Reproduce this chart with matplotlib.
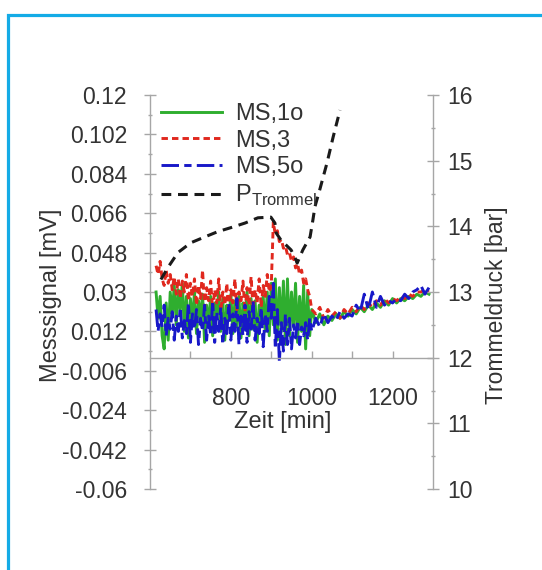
import matplotlib
matplotlib.use("Agg")
import matplotlib.pyplot as plt
from matplotlib.ticker import FixedLocator, AutoMinorLocator, FuncFormatter
from matplotlib.patches import Rectangle

plt.rcParams['font.family'] = ['Liberation Sans', 'DejaVu Sans']
plt.rcParams['mathtext.fontset'] = 'custom'
plt.rcParams['mathtext.rm'] = 'Liberation Sans'

# ---------------- data ----------------
t_ms = [615, 620, 625, 630, 635, 640, 645, 650, 655, 660, 665, 670, 675, 680, 685,
        690, 695, 700, 705, 710, 715, 720, 725, 730, 735, 740, 745, 750, 755, 760,
        765, 770, 775, 780, 785, 790, 795, 800, 805, 810, 815, 820, 825, 830, 835,
        840, 845, 850, 855, 860, 865, 870, 875, 880, 885, 890, 895, 900, 905, 910,
        915, 920, 925, 930, 935, 940, 945, 950, 955, 960, 965, 970, 975, 980, 985,
        990, 995, 1000, 1010, 1020, 1030, 1040, 1050, 1060, 1070, 1080, 1090, 1100,
        1110, 1120, 1130, 1140, 1150, 1160, 1170, 1180, 1190, 1200, 1210, 1220, 1230,
        1240, 1250, 1260, 1270, 1280, 1290]

ms_1o = [0.030, 0.018, 0.028, 0.010, 0.004, 0.025, 0.008, 0.030, 0.020, 0.033, 0.015, 0.031, 0.022, 0.034, 0.012,
         0.028, 0.009, 0.027, 0.016, 0.030, 0.011, 0.026, 0.018, 0.029, 0.007, 0.024, 0.015, 0.028, 0.010, 0.025,
         0.019, 0.030, 0.012, 0.027, 0.008, 0.024, 0.017, 0.029, 0.011, 0.026, 0.014, 0.028, 0.009, 0.025, 0.018,
         0.030, 0.010, 0.027, 0.013, 0.026, 0.007, 0.024, 0.016, 0.028, 0.012, 0.030, 0.010, 0.034, 0.015, 0.036,
         0.008, 0.032, 0.012, 0.035, 0.006, 0.036, 0.010, 0.030, 0.014, 0.034, 0.007, 0.028, 0.012, 0.033, 0.004,
         0.030, 0.010, 0.022, 0.016, 0.020, 0.015, 0.019, 0.017, 0.020, 0.018, 0.021, 0.019, 0.022,
         0.020, 0.023, 0.021, 0.024, 0.022, 0.025, 0.023, 0.026, 0.024, 0.027, 0.025, 0.027, 0.026,
         0.028, 0.027, 0.029, 0.028, 0.030, 0.029]

ms_3 = [0.042, 0.038, 0.044, 0.036, 0.033, 0.040, 0.034, 0.038, 0.031, 0.037, 0.029, 0.036, 0.027, 0.035, 0.030,
        0.038, 0.026, 0.034, 0.028, 0.036, 0.024, 0.033, 0.027, 0.040, 0.023, 0.032, 0.026, 0.035, 0.022, 0.031,
        0.025, 0.036, 0.021, 0.030, 0.024, 0.034, 0.020, 0.031, 0.025, 0.036, 0.022, 0.030, 0.026, 0.035, 0.021,
        0.032, 0.024, 0.037, 0.022, 0.031, 0.025, 0.036, 0.023, 0.033, 0.028, 0.038, 0.030, 0.033, 0.062, 0.056,
        0.058, 0.053, 0.054, 0.050, 0.051, 0.047, 0.048, 0.044, 0.046, 0.041, 0.043, 0.038, 0.040, 0.034, 0.036,
        0.031, 0.028, 0.022, 0.020, 0.023, 0.018, 0.022, 0.019, 0.021, 0.018, 0.022, 0.020, 0.023,
        0.021, 0.024, 0.022, 0.025, 0.023, 0.026, 0.024, 0.027, 0.025, 0.027, 0.026, 0.028, 0.027,
        0.029, 0.028, 0.030, 0.030, 0.031, 0.030]

ms_5o = [0.022, 0.012, 0.020, 0.014, 0.024, 0.010, 0.018, 0.013, 0.021, 0.008, 0.019, 0.012, 0.023, 0.009, 0.017,
         0.011, 0.025, 0.007, 0.020, 0.013, 0.022, 0.006, 0.018, 0.012, 0.024, 0.008, 0.019, 0.010, 0.026, 0.007,
         0.021, 0.012, 0.023, 0.006, 0.018, 0.011, 0.025, 0.008, 0.020, 0.012, 0.027, 0.006, 0.019, 0.010, 0.024,
         0.007, 0.021, 0.013, 0.026, 0.008, 0.018, 0.011, 0.023, 0.005, 0.020, 0.012, 0.028, 0.018, 0.034, 0.004,
         0.022, -0.002, 0.016, 0.003, 0.020, 0.006, 0.018, 0.004, 0.015, 0.009, 0.017, 0.006, 0.014, 0.010, 0.016,
         0.008, 0.018, 0.012, 0.018, 0.014, 0.020, 0.016, 0.019, 0.017, 0.021, 0.018, 0.020, 0.019,
         0.024, 0.021, 0.029, 0.022, 0.030, 0.023, 0.028, 0.024, 0.026, 0.025, 0.027, 0.026, 0.029,
         0.027, 0.030, 0.031, 0.033, 0.029, 0.032]

t_p = [627, 645, 669, 701, 736, 768, 800, 835, 867, 899, 909, 912, 924, 949, 961,
       964, 978, 996, 1003, 1008, 1020, 1038, 1053, 1070]
p_trommel = [13.19, 13.38, 13.60, 13.75, 13.84, 13.92, 13.98, 14.05, 14.13, 14.14, 14.05, 13.90, 13.79, 13.64, 13.49,
             13.44, 13.64, 13.84, 14.10, 14.30, 14.56, 14.97, 15.36, 15.77]

left_ticks = [0.12, 0.102, 0.084, 0.066, 0.048, 0.03, 0.012, -0.006, -0.024, -0.042, -0.06]
right_ticks = [10, 11, 12, 13, 14, 15, 16]
x_ticks = [800, 1000, 1200]

# ---------------- figure ----------------
W, H = 542, 570
fig = plt.figure(figsize=(W / 100, H / 100), dpi=100)
fig.patch.set_facecolor('white')

# outer blue frame (clipped at right / bottom)
fig.patches.append(Rectangle((7.5 / W, -0.05), 1.2, 1 - 14.5 / H + 0.05, transform=fig.transFigure,
                             fill=False, edgecolor='#14ABE6', linewidth=2.3))

ax_l, ax_r, ax_t, ax_b = 150, 433, 95, 489
ax = fig.add_axes([ax_l / W, 1 - ax_b / H, (ax_r - ax_l) / W, (ax_b - ax_t) / H])
ax2 = ax.twinx()

axis_col = '#a6a6a6'
text_col = '#333333'
fs = 16.5

l1, = ax.plot(t_ms, ms_1o, color='#2fae2f', lw=2.1, ls='-', label='MS,1o')
l2, = ax.plot(t_ms, ms_3, color='#e0281e', lw=2.1, ls=(0, (2.2, 1.4)), label='MS,3')
l3, = ax.plot(t_ms, ms_5o, color='#1818c8', lw=2.1, ls=(0, (6, 1.8, 2.5, 1.8)), label='MS,5o')
l4, = ax2.plot(t_p, p_trommel, color='#1a1a1a', lw=2.2, ls=(0, (3.2, 2.2)),
               label=r'P$_{\mathrm{Trommel}}$')

ax.set_xlim(600, 1300)
ax.set_ylim(-0.06, 0.12)
ax2.set_ylim(10, 16)

for s in ['top']:
    ax.spines[s].set_visible(False)
    ax2.spines[s].set_visible(False)
ax.spines['bottom'].set_position(('data', 0))
ax2.spines['bottom'].set_visible(False)
for sp in [ax.spines['left'], ax.spines['bottom'], ax.spines['right'], ax2.spines['right'], ax2.spines['left']]:
    sp.set_color(axis_col)
    sp.set_linewidth(1.0)
ax.spines['right'].set_visible(False)
ax2.spines['left'].set_visible(False)

ax.yaxis.set_major_locator(FixedLocator(left_ticks))
ax.yaxis.set_major_formatter(FuncFormatter(lambda v, p: ('%g' % v)))
ax.yaxis.set_minor_locator(AutoMinorLocator(2))
ax2.yaxis.set_major_locator(FixedLocator(right_ticks))
ax2.yaxis.set_minor_locator(AutoMinorLocator(2))
ax.xaxis.set_major_locator(FixedLocator(x_ticks))
ax.xaxis.set_minor_locator(FixedLocator([700, 900, 1100]))

ax.tick_params(axis='y', which='major', direction='inout', length=9, width=1, color=axis_col,
               labelsize=fs, labelcolor=text_col, pad=12)
ax.tick_params(axis='y', which='minor', direction='inout', length=3, width=1, color=axis_col)
ax2.tick_params(axis='y', which='major', direction='inout', length=9, width=1, color=axis_col,
                labelsize=fs, labelcolor=text_col, pad=6)
ax2.tick_params(axis='y', which='minor', direction='inout', length=3, width=1, color=axis_col)
ax.tick_params(axis='x', which='both', direction='in', length=5, width=1, color=axis_col,
               labelsize=fs, labelcolor=text_col, pad=21)

fig.text(283 / W, 1 - 422 / H, 'Zeit [min]', ha='center', va='center', fontsize=17, color=text_col)
fig.text(51 / W, 1 - 295 / H, 'Messsignal [mV]', ha='center', va='center', rotation=90,
         fontsize=17, color=text_col)
fig.text(496 / W, 1 - 305 / H, 'Trommeldruck [bar]', ha='center', va='center', rotation=90,
         fontsize=16.5, color=text_col)

leg = ax2.legend(handles=[l1, l2, l3, l4], loc='upper left', bbox_to_anchor=(161 / W, 1 - 103 / H),
                 bbox_transform=fig.transFigure, frameon=False, fontsize=17, handlelength=2.6,
                 handletextpad=0.55, labelspacing=0.2, borderpad=0, borderaxespad=0)
for txt in leg.get_texts():
    txt.set_color(text_col)

fig.savefig('out.png', dpi=100, facecolor='white')
